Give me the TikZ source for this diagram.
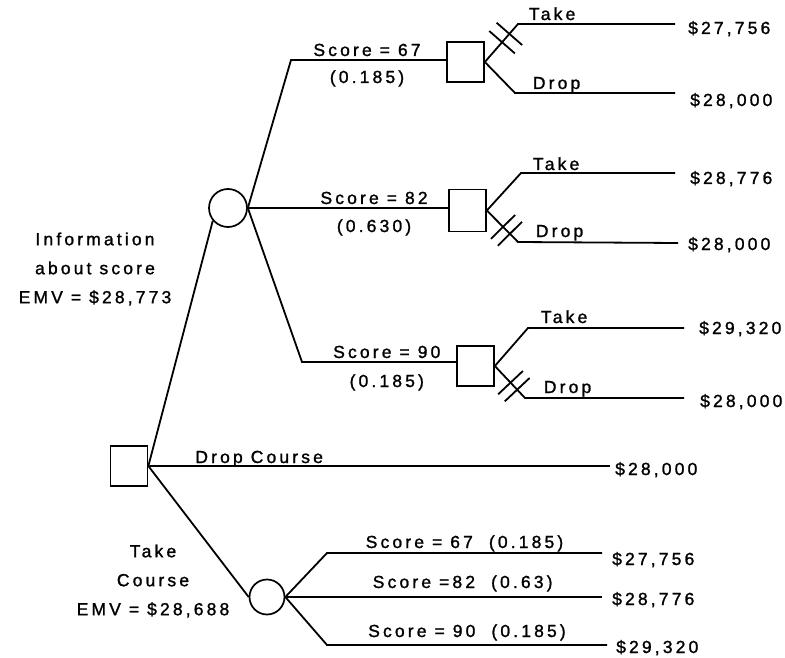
\documentclass[tikz,border=0pt]{standalone}
\usepackage{fontspec}
\setmainfont{Liberation Sans}[LetterSpace=18,FakeBold=1.3]
\usetikzlibrary{calc}
\tikzset{
  dnode/.style={draw,line width=1.7pt,minimum width=37pt,minimum height=40pt,inner sep=0pt},
  cnode/.style={draw,circle,line width=1.7pt,minimum size=38pt,inner sep=0pt},
  lbl/.style={font=\fontsize{17.5}{29}\selectfont,inner sep=0pt},
  branch/.style={line width=1.8pt},
  hash/.style={line width=1.8pt}
}

\begin{document}
\begin{tikzpicture}[x=1pt,y=-1pt]
  \useasboundingbox[fill=white] (0,0) rectangle (785,658);
  % decision and chance nodes
  \node[dnode] (root) at (129,466) {};
  \node[cnode] (info) at (228,208) {};
  \node[cnode,minimum size=35pt] (take) at (267,597) {};
  \node[dnode] (d67) at (465.5,62) {};
  \node[dnode,minimum height=42pt] (d82) at (467.5,210.5) {};
  \node[dnode] (d90) at (475.5,366) {};

  \coordinate (s67) at (291,60);
  \coordinate (s90) at (302,362);
  \coordinate (t67) at (518,24);  \coordinate (e1) at (675,24);
  \coordinate (p67) at (515,93);  \coordinate (e2) at (675,93);
  \coordinate (t82) at (521,173); \coordinate (e3) at (675,173);
  \coordinate (p82) at (518,242); \coordinate (e4) at (678,243);
  \coordinate (t90) at (528,328); \coordinate (e5) at (684,328);
  \coordinate (p90) at (525,398); \coordinate (e6) at (684,398);
  \coordinate (e7) at (610,466);
  \coordinate (b67) at (327,553); \coordinate (e8) at (602,553);
  \coordinate (e9) at (602,597);
  \coordinate (b90) at (327,645); \coordinate (e10) at (607,645);

  % first decision
  \draw[branch] (root.east) -- (info.220);
  \draw[branch] (root.east) -- (take.west);
  \draw[branch] (root.east) -- (e7) node[lbl,pos=0.24,anchor=base,yshift=3pt] {Drop Course};

  % information branches
  \draw[branch] (info.east) -- (s67) -- (s67 -| d67.west)
    node[lbl,pos=0.49,anchor=base,yshift=4pt] {Score = 67}
    node[lbl,pos=0.49,anchor=base,yshift=-23pt] {(0.185)};
  \draw[branch] (info.east) -- (info.east -| d82.west)
    node[lbl,pos=0.63,anchor=base,yshift=4pt] {Score = 82}
    node[lbl,pos=0.63,anchor=base,yshift=-24pt] {(0.630)};
  \draw[branch] (info.east) -- (s90) -- (s90 -| d90.west)
    node[lbl,pos=0.55,anchor=base,yshift=4pt] {Score = 90}
    node[lbl,pos=0.55,anchor=base,yshift=-25pt] {(0.185)};

  % take or drop after the score
  \draw[branch] (d67.east) -- (t67) -- (e1) node[lbl,pos=0,anchor=base west,xshift=10pt,yshift=4pt] {Take};
  \draw[branch] (d67.east) -- (p67) -- (e2) node[lbl,pos=0,anchor=base west,xshift=17pt,yshift=4pt] {Drop};
  \draw[branch] (d82.east) -- (t82) -- (e3) node[lbl,pos=0,anchor=base west,xshift=11pt,yshift=3pt] {Take};
  \draw[branch] (d82.east) -- (p82) -- (e4) node[lbl,pos=0,anchor=base west,xshift=17pt,yshift=5pt] {Drop};
  \draw[branch] (d90.east) -- (t90) -- (e5) node[lbl,pos=0,anchor=base west,xshift=12pt,yshift=5pt] {Take};
  \draw[branch] (d90.east) -- (p90) -- (e6) node[lbl,pos=0,anchor=base west,xshift=18pt,yshift=5pt] {Drop};

  % pruned branches
  \foreach \a/\b in {d67.east/t67,d82.east/p82,d90.east/p90}
    \foreach \p in {0.52,0.74}
      \draw[hash] ($(\a)!\p!(\b)!17pt!90:(\b)$) -- ($(\a)!\p!(\b)!17pt!-90:(\b)$);

  % take course branches
  \draw[branch] (take.east) -- (b67) -- (e8) node[lbl,midway,anchor=base,yshift=5pt] {Score = 67\ \ (0.185)};
  \draw[branch] (take.east) -- (e9) node[lbl,pos=0.56,anchor=base,yshift=9pt] {Score =82\ \ (0.63)};
  \draw[branch] (take.east) -- (b90) -- (e10) node[lbl,pos=0.5,anchor=base,yshift=8pt] {Score = 90\ \ (0.185)};

  % payoffs
  \foreach \n/\x/\y/\v in {v1/688/34/{\$27,756}, v2/690/106/{\$28,000}, v3/690/184/{\$28,776},
      v4/688/250/{\$28,000}, v5/699/334/{\$29,320}, v6/700/407/{\$28,000}, v7/615/475/{\$28,000},
      v8/612/565/{\$27,756}, v9/612/605/{\$28,776}, v10/616/653/{\$29,320}}
    \node[lbl,anchor=base west] (\n) at (\x,\y) {\v};

  \node[lbl,align=center] (infolbl) at (95,269) {Information\\about score\\EMV = \$28,773};
  \node[lbl,align=center] (takelbl) at (153,581) {Take\\Course\\EMV = \$28,688};
\end{tikzpicture}
\end{document}
